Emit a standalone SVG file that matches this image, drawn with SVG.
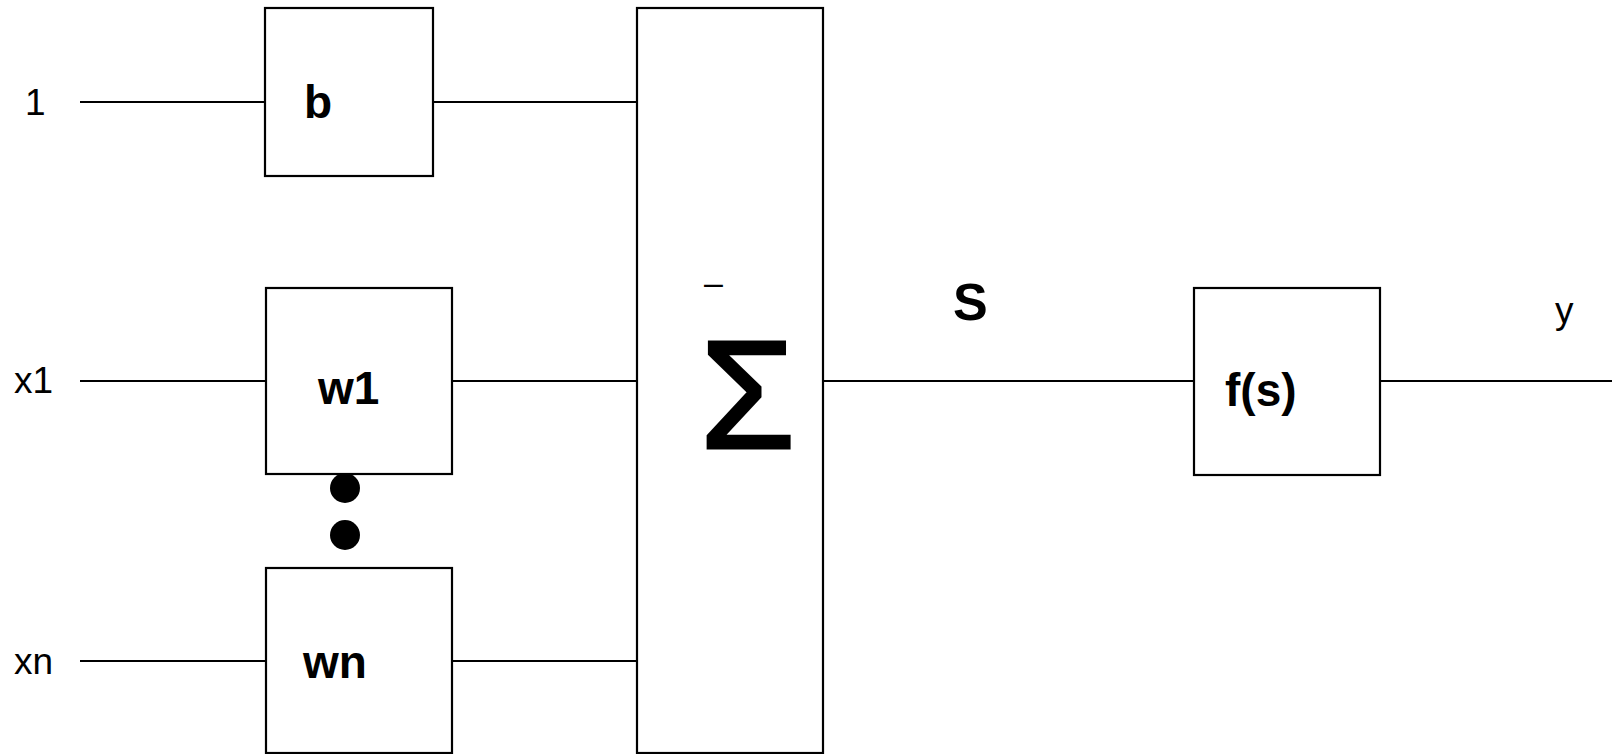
<svg xmlns="http://www.w3.org/2000/svg" width="1612" height="754" viewBox="0 0 1612 754">
<style>
.box{fill:#fff;stroke:#000;stroke-width:2.2}
.ln{stroke:#000;stroke-width:2;fill:none}
.lbl{font-family:"Liberation Sans",Arial,sans-serif;font-size:37px;fill:#000}
.bl{font-family:"Liberation Sans",Arial,sans-serif;font-size:46px;font-weight:bold;fill:#000}
</style>
<rect width="1612" height="754" fill="#fff"/>
<g id="connectors">
<line class="ln" x1="80" y1="102" x2="265" y2="102"/>
<line class="ln" x1="433" y1="102" x2="637" y2="102"/>
<line class="ln" x1="80" y1="381" x2="266" y2="381"/>
<line class="ln" x1="452" y1="381" x2="637" y2="381"/>
<line class="ln" x1="80" y1="661" x2="266" y2="661"/>
<line class="ln" x1="452" y1="661" x2="637" y2="661"/>
<line class="ln" x1="823" y1="381" x2="1194" y2="381"/>
<line class="ln" x1="1380" y1="381" x2="1612" y2="381"/>
</g>
<g id="labels">
<text class="lbl" x="25" y="115">1</text>
<text class="lbl" x="14" y="393">x1</text>
<text class="lbl" x="14" y="674">xn</text>
<text class="lbl" x="1555" y="323">y</text>
<text class="bl" x="953" y="320" style="font-size:52px">S</text>
</g>
<g id="node-b">
<rect class="box" x="265" y="8" width="168" height="168"/>
<text class="bl" x="304" y="118">b</text>
</g>
<g id="node-w1">
<rect class="box" x="266" y="288" width="186" height="186"/>
<text class="bl" x="318" y="404">w1</text>
</g>
<g id="dots">
<circle cx="345" cy="488" r="15" fill="#000"/>
<circle cx="345" cy="535" r="15" fill="#000"/>
</g>
<g id="node-wn">
<rect class="box" x="266" y="568" width="186" height="185"/>
<text class="bl" x="303" y="678">wn</text>
</g>
<g id="node-sum">
<rect class="box" x="637" y="8" width="186" height="745"/>
<text class="lbl" x="704" y="294" style="font-size:34px">–</text>
<text class="lbl" x="700" y="448" style="font-size:154px;stroke:#000;stroke-width:3">Σ</text>
</g>
<g id="node-f">
<rect class="box" x="1194" y="288" width="186" height="187"/>
<text class="bl" x="1225" y="406">f(s)</text>
</g>
</svg>
